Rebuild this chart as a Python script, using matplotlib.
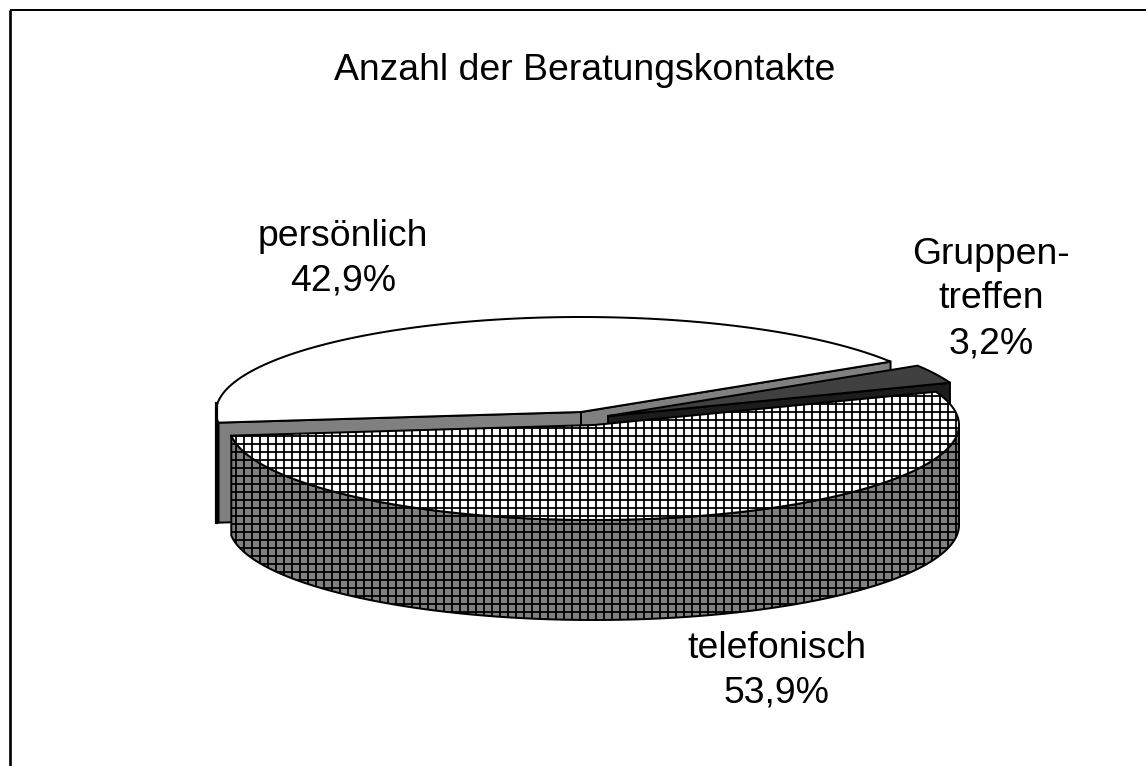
import numpy as np
import matplotlib
matplotlib.use('Agg')
import matplotlib.pyplot as plt
from matplotlib.patches import Polygon

plt.rcParams['font.family'] = ['Liberation Sans', 'DejaVu Sans']
plt.rcParams['hatch.linewidth'] = 1.35

title = 'Anzahl der Beratungskontakte'
categories = ['persönlich', 'telefonisch', 'Gruppentreffen']
label_names = ['persönlich', 'telefonisch', 'Gruppen-\ntreffen']
values = [42.9, 53.9, 3.2]


def rim(cx, cy, a1, a2, dy=0):
    t = np.radians(np.linspace(a1, a2, 200))
    return cx + RX * np.cos(t), cy - RY * np.sin(t) + dy


def shape(ax, x, y, **kw):
    kw.setdefault('edgecolor', 'black')
    kw.setdefault('linewidth', 1.5)
    ax.add_patch(Polygon(np.column_stack([x, y]), closed=True, **kw))


def side_wall(ax, cx, cy, a1, a2, **kw):
    x, y = rim(cx, cy, a1, a2)
    xb, yb = rim(cx, cy, a2, a1, DEPTH)
    shape(ax, np.r_[x, xb], np.r_[y, yb], **kw)


def radial_wall(ax, cx, cy, a, **kw):
    x, y = rim(cx, cy, a, a)
    shape(ax, [cx, x[0], x[0], cx], [cy, y[0], y[0] + DEPTH, cy + DEPTH], **kw)


def top(ax, cx, cy, a1, a2, **kw):
    x, y = rim(cx, cy, a1, a2)
    shape(ax, np.r_[cx, x], np.r_[cy, y], **kw)


# pixel sized canvas
W, H = 1146, 766
RX, RY, DEPTH = 365, 95, 100
START = 32
centers = [(581, 412), (594, 425), (608, 416)]

fig = plt.figure(figsize=(W / 96, H / 96), dpi=96)
ax = fig.add_axes([0, 0, 1, 1])
ax.set_xlim(0, W)
ax.set_ylim(H, 0)
ax.axis('off')

# slice angles, going counter clockwise from START
edges = START + np.r_[0, np.cumsum(values)] * 3.6
a_pers, a_tel, a_grp = zip(edges[:-1], edges[1:])

# persoenlich
c = centers[0]
radial_wall(ax, c[0], c[1], a_pers[0], facecolor='#808080')
radial_wall(ax, c[0], c[1], a_pers[1], facecolor='#808080')
side_wall(ax, c[0], c[1], 180, a_pers[1], facecolor='#808080')
top(ax, c[0], c[1], a_pers[0], a_pers[1], facecolor='white')
ax.plot([c[0] - RX, c[0] - RX], [c[1] - 9, c[1] + RY * 0.11 + DEPTH], color='black', lw=2.4)

# gruppentreffen
c = centers[2]
radial_wall(ax, c[0], c[1], a_grp[0], facecolor='#1c1c1c')
top(ax, c[0], c[1], a_grp[0], a_grp[1], facecolor='#404040')

# telefonisch
c = centers[1]
side_wall(ax, c[0], c[1], a_tel[0], 360, facecolor='#808080', hatch='++')
top(ax, c[0], c[1], a_tel[0], a_tel[1], facecolor='white', hatch='++')

# texts
ax.text(585, 70, title, ha='center', va='center', fontsize=28)
label_pos = [(343, 259), (777, 671), (991, 299)]
for name, val, pos in zip(label_names, values, label_pos):
    txt = name + '\n' + f'{val:.1f}'.replace('.', ',') + '%'
    ax.text(pos[0], pos[1], txt, ha='center', va='center', fontsize=28, linespacing=1.36)

# frame
ax.plot([10, 10], [H, 10], color='black', lw=2.0, solid_capstyle='butt')
ax.plot([10, W], [10, 10], color='black', lw=1.5, solid_capstyle='butt')

fig.savefig('out.png', dpi=96)
